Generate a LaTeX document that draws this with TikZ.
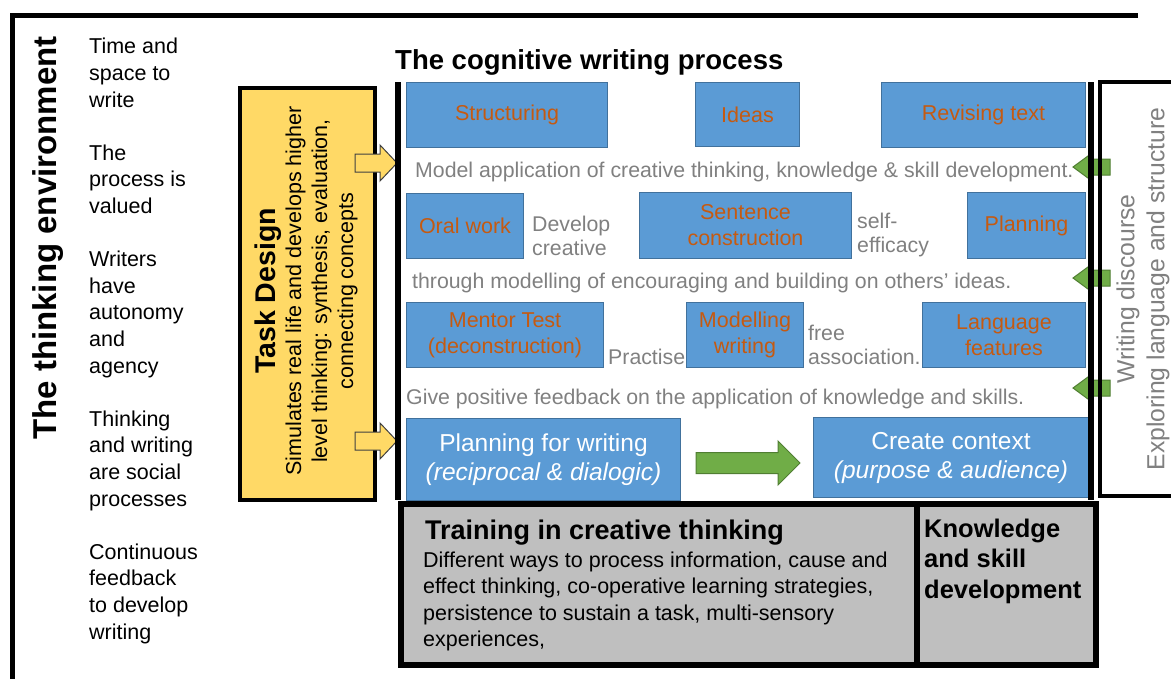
\documentclass[tikz,border=0pt]{standalone}
\usepackage{fontspec}
\setmainfont{Liberation Sans}
\usetikzlibrary{positioning}

\definecolor{boxblue}{HTML}{5B9BD5}
\definecolor{boxedge}{HTML}{41719C}
\definecolor{boxtext}{HTML}{C55A11}
\definecolor{taskyellow}{HTML}{FFD966}
\definecolor{arrowgreen}{HTML}{70AD47}
\definecolor{greenedge}{HTML}{507E32}
\definecolor{softgray}{HTML}{808080}
\definecolor{panelgray}{HTML}{BFBFBF}

\newcommand\fsz[2]{\fontsize{#1}{#2}\selectfont}

\tikzset{
	stage/.style={draw=boxedge, fill=boxblue, line width=1, text=boxtext, align=center,
		font=\fsz{21.5}{26}, inner sep=0, anchor=north west},
	note/.style={text=softgray, font=\fsz{21.3}{24.5}, inner sep=0, anchor=west, align=left},
	panel/.style={draw, line width=6, fill=panelgray, anchor=north west, minimum height=161},
	pics/blockarrow/.style args={#1/#2/#3/#4}{code={% length/shaft/head/head length
		\path[pic actions] (0,-#2) -- ({#1-#4},-#2) -- ({#1-#4},-#3) -- (#1,0)
			-- ({#1-#4},#3) -- ({#1-#4},#2) -- (0,#2) -- cycle;
	}},
}

\begin{document}
\begin{tikzpicture}[x=1pt, y=-1pt]
	\useasboundingbox (0,0) rectangle (1171,678);

	% thinking environment
	\draw[line width=5] (1138,15) -- (12,15) -- (12,690);
	\node[rotate=90, inner sep=0, font=\bfseries\fsz{33}{36}] (envtitle) at (48,238) {The thinking environment};
	\node[anchor=base west, inner sep=0, align=left, font=\fsz{21.5}{26.6}] (envlist) at (89,639) % last line
		{Time and\\space to\\write\\[26.6pt]The\\process is\\valued\\[26.6pt]Writers\\have\\autonomy\\and\\agency\\[26.6pt]Thinking\\and writing\\are social\\processes\\[26.6pt]Continuous\\feedback\\to develop\\writing};

	% task design
	\node[draw, line width=4, fill=taskyellow, minimum width=135, minimum height=412, anchor=north west] (task) at (238,86) {};
	\node[rotate=90, align=center, inner sep=0, font=\fsz{21.5}{26}] (tasktext) at (306,291)
		{{\bfseries\fsz{28.5}{30}Task Design}\\Simulates real life and develops higher\\level thinking: synthesis, evaluation,\\connecting concepts};

	% cognitive writing process
	\node[anchor=base west, inner sep=0, font=\bfseries\fsz{27.5}{30}] (proctitle) at (395,69.5) {The cognitive writing process};

	\node[stage, minimum width=201, minimum height=65] (struct) at (406,82) {Structuring};
	\node[stage, minimum width=104, minimum height=64] (ideas) at (695,82) {Ideas};
	\node[stage, minimum width=204, minimum height=65] (revise) at (881,82) {Revising text};
	\node[stage, minimum width=117, minimum height=65] (oral) at (406,193) {Oral work};
	\node[stage, minimum width=212, minimum height=66] (sentence) at (639,192) {Sentence\\construction};
	\node[stage, minimum width=118, minimum height=66] (plan) at (967,192) {Planning};
	\node[stage, minimum width=197, minimum height=65] (mentor) at (406,302) {Mentor Test\\(deconstruction)};
	\node[stage, minimum width=117, minimum height=65] (modelling) at (686,302) {Modelling\\writing};
	\node[stage, minimum width=163, minimum height=65] (language) at (922,302) {Language\\features};
	\node[stage, minimum width=274, minimum height=82, text=white, font=\fsz{24.5}{29}] (planwrite) at (406,418)
		{Planning for writing\\\itshape(reciprocal \& dialogic)};
	\node[stage, minimum width=275, minimum height=80, text=white, font=\fsz{24.5}{29}] (context) at (813,417)
		{Create context\\\itshape(purpose \& audience)};

	\node[note] (model) at (415,172) {Model application of creative thinking, knowledge \& skill development.};
	\node[note] (develop) at (532,236) {Develop\\creative};
	\node[note] (selfeff) at (857,235) {self-\\efficacy};
	\node[note] (through) at (412,283) {through modelling of encouraging and building on others’ ideas.};
	\node[note] (practise) at (608,357) {Practise};
	\node[note] (freeass) at (808,345) {free\\association.};
	\node[note] (feedback) at (406,399) {Give positive feedback on the application of knowledge and skills.};

	% arrows
	\coordinate (tdA) at (355,163);
	\coordinate (tdB) at (355,441);
	\foreach \p in {(tdA),(tdB)}
		\pic[fill=taskyellow, draw=black!75, line width=1] at \p {blockarrow=42/9/18/17};
	\foreach \y in {167,278,388}
		\pic[rotate=180, fill=arrowgreen, draw=greenedge, line width=1] at (1110,\y) {blockarrow=37/8/14/19};
	\pic[fill=arrowgreen, draw=greenedge, line width=1] at ([xshift=15pt]planwrite.east |- 0,463) {blockarrow=104/10.5/22/22};

	\draw[line width=6] (398,82) -- (398,500);
	\draw[line width=6] (1091,82) -- (1091,500);

	% writing discourse
	\draw[line width=4.5] (1180,82) -- (1100,82) -- (1100,496) -- (1180,496);
	\node[rotate=90, align=center, inner sep=0, text=softgray, font=\fsz{24.7}{30}] (discourse) at (1143,289)
		{Writing discourse\\Exploring language and structure};

	% training and knowledge
	\node[panel, minimum width=516] (training) at (398,501) {};
	\node[panel, minimum width=179] (knowledge) at (914,501) {};
	\node[anchor=base west, inner sep=0, font=\bfseries\fsz{27}{30}] (trtitle) at (425,539.5) {Training in creative thinking};
	\node[anchor=base west, inner sep=0, align=left, font=\fsz{21.5}{26.3}] (trbody) at (423,646.4) % last line
		{Different ways to process information, cause and\\effect thinking, co-operative learning strategies,\\persistence to sustain a task, multi-sensory\\experiences,};
	\node[anchor=base west, inner sep=0, align=left, font=\bfseries\fsz{25.5}{30.5}] (kntext) at (924,598)
		{Knowledge\\and skill\\development};
\end{tikzpicture}
\end{document}
